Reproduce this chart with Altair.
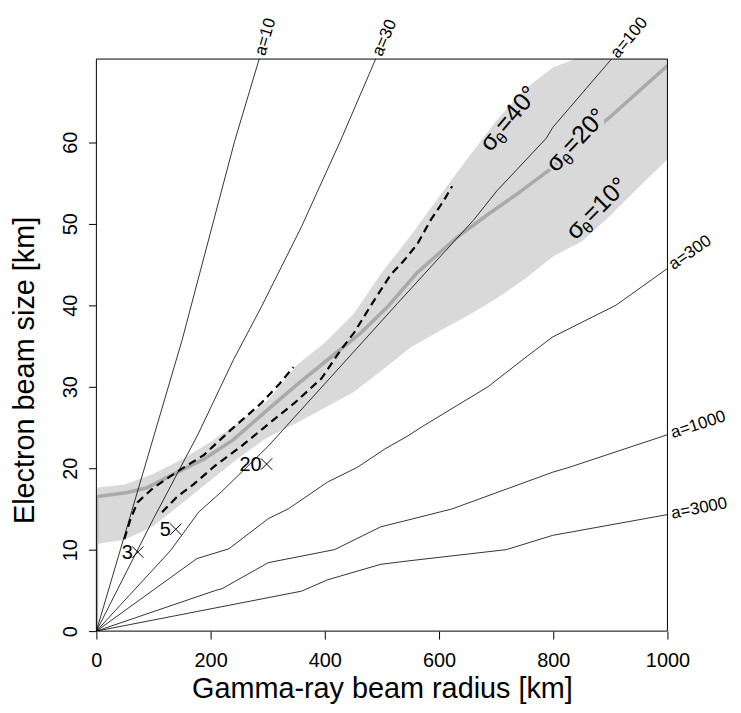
import altair as alt
import pandas as pd

# ---------------- data ----------------
# constant-a curves (electron beam size vs gamma-ray beam radius)
a10_x = [0, 58, 150, 242, 285]
a10_y = [0, 13.8, 35.7, 60.1, 70.2]
a30_x = [0, 100, 179, 240, 289, 359, 427, 489]
a30_y = [0, 13.8, 24.3, 33.3, 39.8, 49.6, 60.1, 70.2]
a100_x = [0, 130, 179, 219, 301, 469, 527, 660, 701, 788, 799, 902]
a100_y = [0, 9.9, 14.6, 17.1, 22.7, 35.7, 40.2, 50.4, 54.0, 60.5, 61.8, 70.2]
a300_x = [0, 176, 232, 301, 336, 405, 457, 504, 544, 573, 686, 750, 799, 910, 1000]
a300_y = [0, 8.9, 10.1, 13.8, 15.0, 18.3, 20.1, 22.3, 23.9, 25.2, 30.0, 33.5, 36.1, 40.0, 44.5]
a1000_x = [0, 209, 220, 301, 417, 498, 544, 623, 799, 828, 1000]
a1000_y = [0, 5.0, 5.2, 8.4, 10.0, 12.8, 13.6, 15.0, 19.5, 20.1, 24.1]
a3000_x = [0, 359, 405, 498, 544, 718, 799, 1000]
a3000_y = [0, 4.9, 6.3, 8.2, 8.6, 10.0, 11.75, 14.3]

# sigma_theta = 20 deg (grey centre line)
s20_x = [0, 0, 54, 89, 136, 188, 240, 289, 347, 405, 463, 510, 562, 631, 683, 736, 799, 828, 898, 1000]
s20_y = [0, 16.5, 17.0, 17.6, 19.3, 21.1, 23.5, 26.5, 30.0, 33.3, 36.6, 39.8, 44.0, 48.3, 51.0, 53.6, 56.9, 58.9, 63.0, 69.4]

# band between sigma_theta = 10 deg (lower) and 40 deg (upper)
band_x = [0, 50, 100, 150, 200, 250, 300, 350, 400, 450, 500, 550, 600, 650, 700, 750, 800, 850, 900, 950, 1000]
band_hi = [17.6, 18.0, 19.3, 21.1, 23.2, 25.6, 28.3, 32.6, 35.4, 38.9, 44.0, 48.5, 53.3, 58.0, 62.6, 66.5, 69.2, 70.5, 71.8, 73.2, 74.6]
band_lo = [10.7, 11.2, 12.9, 15.7, 18.5, 21.3, 23.8, 25.5, 27.4, 29.3, 32.0, 34.8, 36.8, 38.7, 40.8, 43.2, 46.0, 47.8, 51.0, 54.5, 57.9]

# dashed curves
dashA_x = [49, 60, 72, 100, 140, 188, 234, 289, 320, 345]
dashA_y = [11.3, 13.8, 15.8, 17.6, 19.5, 21.6, 24.6, 28.0, 30.3, 32.4]
dashB_x = [115, 140, 170, 208, 254, 301, 347, 394, 428, 452, 481, 515, 539, 562, 585, 608, 623]
dashB_y = [14.6, 16.4, 18.0, 20.3, 22.7, 25.4, 28.0, 31.0, 34.5, 36.7, 40.0, 43.7, 45.5, 47.5, 50.4, 52.8, 54.6]

# crosses with labels
mark_x = [72.5, 139, 298]
mark_y = [9.7, 12.5, 20.5]
mark_lab = ["3", "5", "20"]

# curve labels
alab_text = ["a=10", "a=30", "a=100", "a=300", "a=1000", "a=3000"]
alab_x = [285, 489, 902, 1000, 1000, 1000]
alab_y = [70.2, 70.2, 70.2, 44.5, 24.1, 14.3]
alab_angle = [286, 293, 310, 325, 342, 349]

sig_val = ["40°", "20°", "10°"]
sig_x = [690, 805, 839]
sig_y = [58.7, 56.2, 47.9]
sig_angle = [310, 313, 315]

# ---------------- build tables ----------------
rows = []
for name, xs_, ys_ in [("a10", a10_x, a10_y), ("a30", a30_x, a30_y), ("a100", a100_x, a100_y),
                       ("a300", a300_x, a300_y), ("a1000", a1000_x, a1000_y), ("a3000", a3000_x, a3000_y)]:
    for i, (xv, yv) in enumerate(zip(xs_, ys_)):
        rows.append({"s": name, "x": xv, "y": yv, "o": i})
thin = pd.DataFrame(rows)
grey = pd.DataFrame({"x": s20_x, "y": s20_y, "o": range(len(s20_x))})
band = pd.DataFrame({"x": band_x, "hi": band_hi, "lo": band_lo})
drows = []
for name, xs_, ys_ in [("A", dashA_x, dashA_y), ("B", dashB_x, dashB_y)]:
    for i, (xv, yv) in enumerate(zip(xs_, ys_)):
        drows.append({"s": name, "x": xv, "y": yv, "o": i})
dash = pd.DataFrame(drows)
marks = pd.DataFrame({"x": mark_x, "y": mark_y, "t": mark_lab})
alab = pd.DataFrame({"x": alab_x, "y": alab_y, "t": alab_text, "ang": alab_angle})
sig = pd.DataFrame({"x": sig_x, "y": sig_y, "t": sig_val, "ang": sig_angle})
sig["eq"] = ["=" + v for v in sig_val]
sig["full"] = ["σθ=" + v for v in sig_val]

FONT = "Liberation Sans"

W, H = 575, 576
xs = alt.Scale(domain=[0, 1000], nice=False, zero=False)
ys = alt.Scale(domain=[0, 70.2], nice=False, zero=False)
X = alt.X("x:Q", scale=xs, axis=alt.Axis(values=[0, 200, 400, 600, 800, 1000], format="d",
                                         title="Gamma-ray beam radius [km]",
                                         titleBaseline="alphabetic", titleY=67, titleX=W / 2))
Xn = alt.X("x:Q", scale=xs)
Yn = alt.Y("y:Q", scale=ys)

band_layer = alt.Chart(band).mark_area(color="#d9d9d9", clip=True, opacity=1).encode(
    x=X, y=alt.Y("lo:Q", scale=ys, axis=alt.Axis(values=[0, 10, 20, 30, 40, 50, 60],
                                                 title="Electron beam size [km]",
                                                 titleAngle=270, titleAlign="center",
                                                 titleBaseline="alphabetic", titleX=-63, titleY=313)),
    y2="hi:Q")

grey_layer = alt.Chart(grey).mark_line(color="#aaaaaa", strokeWidth=3.6, clip=True).encode(
    x=Xn, y=Yn, order="o:Q")

thin_layer = alt.Chart(thin).mark_line(color="black", strokeWidth=0.8, clip=True).encode(
    x=Xn, y=Yn, detail="s:N", order="o:Q")

dash_layer = alt.Chart(dash).mark_line(color="black", strokeWidth=2.2, strokeDash=[8, 5], clip=True).encode(
    x=Xn, y=Yn, detail="s:N", order="o:Q")

cross_layer = alt.Chart(marks).mark_point(shape="M-1,-1L1,1M-1,1L1,-1", size=130, color="black",
                                          strokeWidth=1, filled=False, opacity=1).encode(x=Xn, y=Yn)
cross_text = alt.Chart(marks).mark_text(font=FONT, fontSize=20, align="right", baseline="middle",
                                        dx=-5, dy=1, color="black").encode(x=Xn, y=Yn, text="t:N")

alab_layer = alt.Chart(alab).mark_text(font=FONT, fontSize=17, align="left", baseline="middle",
                                       dx=4, color="black").encode(
    x=Xn, y=Yn, text="t:N", angle=alt.Angle("ang:Q", scale=None))

sig20 = sig[sig.t == "20°"]
halo = alt.Chart(sig20).mark_text(font=FONT, fontSize=25, align="left", baseline="alphabetic",
                                  color="#d9d9d9", stroke="#d9d9d9", strokeWidth=5).encode(
    x=Xn, y=Yn, text="full:N", angle=alt.Angle("ang:Q", scale=None))
sig_a = alt.Chart(sig).mark_text(font=FONT, fontSize=25, align="left", baseline="alphabetic",
                                 color="black").encode(
    x=Xn, y=Yn, text=alt.value("σ"), angle=alt.Angle("ang:Q", scale=None))
sig_b = alt.Chart(sig).mark_text(font=FONT, fontSize=16, align="left", baseline="alphabetic",
                                 dx=14, dy=5, color="black").encode(
    x=Xn, y=Yn, text=alt.value("θ"), angle=alt.Angle("ang:Q", scale=None))
sig_c = alt.Chart(sig).mark_text(font=FONT, fontSize=25, align="left", baseline="alphabetic",
                                 dx=24, color="black").encode(
    x=Xn, y=Yn, text="eq:N", angle=alt.Angle("ang:Q", scale=None))

frame = alt.Chart(pd.DataFrame({"f": [0]})).mark_rect(
    stroke="black", strokeWidth=1, fillOpacity=0, color="black").encode(
    x=alt.value(0), x2=alt.value(W), y=alt.value(0), y2=alt.value(H))

chart = alt.layer(band_layer, grey_layer, thin_layer, dash_layer, cross_layer, cross_text,
                  alab_layer, halo, sig_a, sig_b, sig_c, frame).properties(
    width=W, height=H,
    autosize=alt.AutoSizeParams(type="none"),
    padding={"left": 89, "top": 49, "right": 66, "bottom": 76},
).configure_view(strokeWidth=0).configure_axis(
    domain=False, grid=False, ticks=True, tickColor="black", tickSize=8, tickWidth=1,
    labelFont=FONT, labelFontSize=20, labelColor="black",
    titleFont=FONT, titleFontSize=29, titleFontWeight="normal", titleColor="black",
).configure_axisX(labelPadding=12, labelFlush=False).configure_axisY(
    labelAngle=270, labelAlign="center", labelBaseline="alphabetic", labelPadding=12)

chart.save("out.html", embed_options={"renderer": "svg", "actions": False})
